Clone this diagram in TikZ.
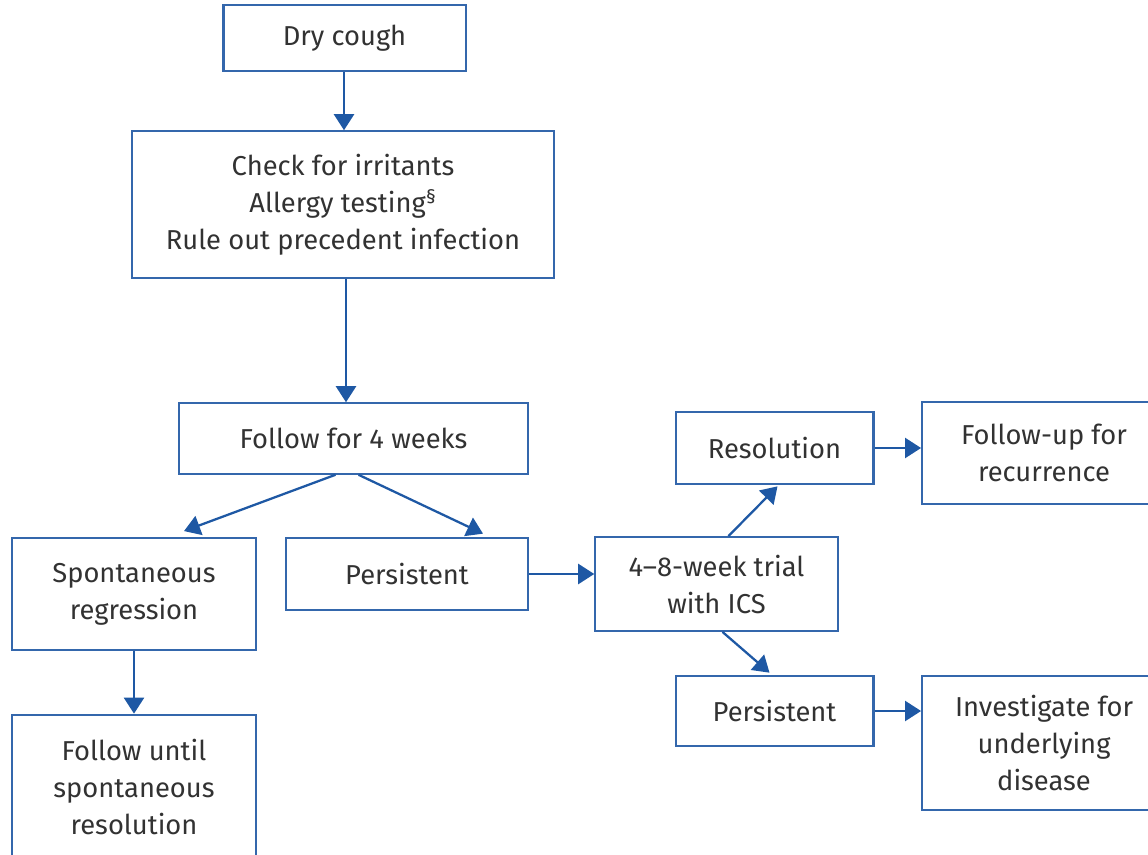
\documentclass[tikz,border=0pt]{standalone}
\usepackage{fontspec}
\setmainfont{Fira Sans}
\usetikzlibrary{arrows.meta,calc}
\definecolor{boxblue}{RGB}{52,103,172}
\definecolor{arrowblue}{RGB}{30,88,164}
\definecolor{txtgray}{RGB}{50,50,50}
\begin{document}
\begin{tikzpicture}[x=0.75pt,y=-0.75pt,
  box/.style={draw=boxblue,line width=1.4pt,fill=white,align=center,
    text=txtgray,inner sep=0pt,
    font=\fontsize{20.5}{27.75}\selectfont},
  boxthick/.style={box,line width=2pt},
  flow/.style={draw=arrowblue,line width=1.7pt,
    -{Triangle[width=15pt,length=12pt]}}]
\useasboundingbox (0,0) rectangle (1148,855);
\clip (0,0) rectangle (1148,855);
\fill[white] (0,0) rectangle (1148,855);

% boxes
\node[boxthick,minimum width=182pt,minimum height=49.5pt] (dry) at (344.5,38) {Dry cough};
\node[box,minimum width=316.5pt,minimum height=110pt] (check) at (343,204.5)
  {Check for irritants\\Allergy testing\textsuperscript{§}\\Rule out precedent infection};
\node[box,minimum width=262pt,minimum height=53pt] (follow) at (353.5,438.5) {Follow for 4 weeks};
\node[box,minimum width=183pt,minimum height=84pt] (spont) at (134,594) {Spontaneous\\regression};
\node[boxthick,minimum width=181.5pt,minimum height=54pt] (persA) at (407,574) {Persistent};
\node[boxthick,minimum width=183pt,minimum height=108pt] (until) at (134,787)
  {Follow until\\spontaneous\\resolution};
\node[box,minimum width=182pt,minimum height=70.5pt] (trial) at (716.5,584) {4–8-week trial\\with ICS};
\node[boxthick,minimum width=148pt,minimum height=54pt] (resol) at (774.5,448) {Resolution};
\node[box,minimum width=183pt,minimum height=76.5pt] (fup) at (1044,453) {Follow-up for\\recurrence};
\node[boxthick,minimum width=148pt,minimum height=52.5pt] (persB) at (774.5,711) {Persistent};
\node[box,minimum width=183pt,minimum height=100.5pt] (invest) at (1044,743)
  {Investigate for\\underlying\\disease};

% connectors
\coordinate (drydown) at ($(dry.south)+(-0.5,0)$);
\draw[flow] (drydown) -- (drydown |- check.north);
\coordinate (checkdown) at ($(check.south)+(3,0)$);
\draw[flow] (checkdown) -- (checkdown |- follow.north);
\draw[flow] ($(follow.south)+(-18,0)$) -- ($(spont.north)+(50,-6)$);
\draw[flow] ($(follow.south)+(5,0)$) -- ($(persA.north)+(76,-3)$);
\draw[flow] (spont.south) -- (until.north);
\draw[flow] (persA.east) -- (trial.west |- persA.east);
\draw[flow] ($(trial.north)+(12,0)$) -- ($(resol.south)+(3,1)$);
\draw[flow] ($(trial.south)+(6,0)$) -- ($(persB.north)+(-5,-2)$);
\draw[flow] (resol.east) -- (fup.west |- resol.east);
\draw[flow] (persB.east) -- (invest.west |- persB.east);
\end{tikzpicture}
\end{document}
